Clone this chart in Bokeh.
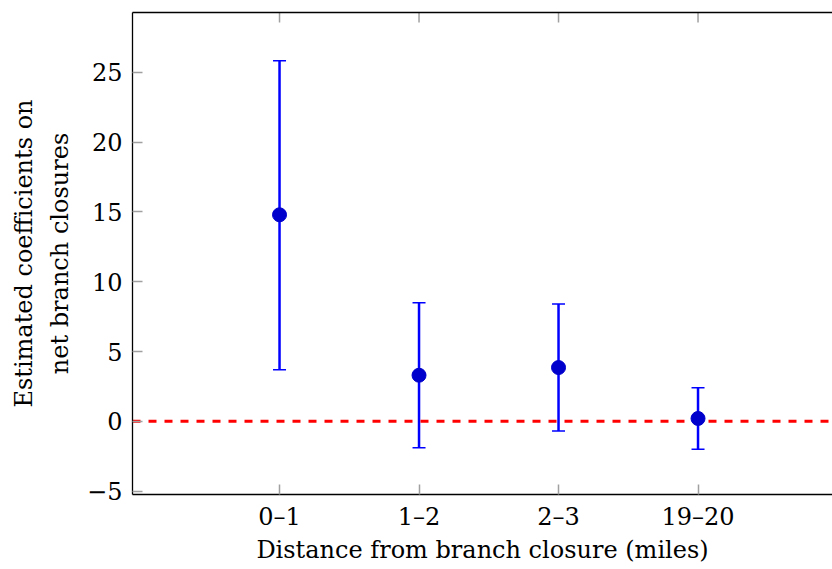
import math
from bokeh.plotting import figure
from bokeh.models import (Range1d, FixedTicker, Span, LinearAxis, Whisker,
                          TeeHead, ColumnDataSource, Title)
from bokeh.embed import file_html
from bokeh.resources import INLINE

# ---- data ----
categories = ["0–1", "1–2", "2–3", "19–20"]
estimates = [14.8, 3.3, 3.85, 0.2]
upper = [25.85, 8.5, 8.4, 2.4]
lower = [3.7, -1.9, -0.7, -2.0]
y_ticks = [-5, 0, 5, 10, 15, 20, 25]
x_label = "Distance from branch closure (miles)"
y_label_lines = ["Estimated coefficients on", "net branch closures"]

x_idx = list(range(len(categories)))
src = ColumnDataSource(dict(x=x_idx, est=estimates, upper=upper, lower=lower))

FONT = "DejaVu Serif"
FS = "24px"
TOP, BOTTOM, LEFT = 12, 494, 132
W, H = 832, 569
Y0, Y1 = -5.25, 29.3

p = figure(width=W, height=H, output_backend="svg", toolbar_location=None,
           x_range=Range1d(-1.054, 3.964), y_range=Range1d(Y0, Y1),
           min_border_left=LEFT, min_border_right=0, min_border_top=TOP,
           min_border_bottom=H - BOTTOM)
p.outline_line_color = None
p.grid.visible = False
p.background_fill_color = "white"
p.border_fill_color = "white"

tick_color = "#a0a0a0"

def style_axis(ax):
    ax.axis_line_color = "black"
    ax.axis_line_width = 1.3
    ax.major_tick_in = 10
    ax.major_tick_out = 0
    ax.minor_tick_line_color = None
    ax.major_tick_line_color = tick_color
    ax.major_tick_line_width = 1.5
    ax.major_label_text_font = FONT
    ax.major_label_text_font_size = FS
    ax.major_label_text_color = "black"
    ax.axis_label_text_font = FONT
    ax.axis_label_text_font_size = FS
    ax.axis_label_text_font_style = "normal"
    ax.axis_label_text_color = "black"

xa = p.xaxis[0]
style_axis(xa)
xa.ticker = FixedTicker(ticks=x_idx)
xa.major_label_overrides = {i: c for i, c in zip(x_idx, categories)}
xa.major_label_standoff = 8
xa.axis_label = x_label
xa.axis_label_standoff = 2

ya = p.yaxis[0]
style_axis(ya)
ya.ticker = FixedTicker(ticks=y_ticks)
ya.major_label_overrides = {t: (str(t).replace("-", "−")) for t in y_ticks}
ya.major_label_standoff = 10
ya.axis_label = y_label_lines[1]
ya.axis_label_standoff = 10

# top border (no ticks on the axis itself, ticks drawn as short rays)
top = LinearAxis(ticker=FixedTicker(ticks=[]))
style_axis(top)
top.major_label_standoff = 0
p.add_layout(top, "above")
p.ray(x=x_idx, y=Y1, length=10, length_units="screen", angle=-math.pi / 2,
      line_color=tick_color, line_width=1.5)

# outer line of the y label
t1 = Title(text=y_label_lines[0], align="center", text_font=FONT,
           text_font_size=FS, text_font_style="normal", text_color="black",
           standoff=12)
p.add_layout(t1, "left")

# error bars
wh = Whisker(source=src, base="x", upper="upper", lower="lower",
             line_color="blue", line_width=2.5,
             upper_head=TeeHead(size=13, line_color="blue", line_width=1.5),
             lower_head=TeeHead(size=13, line_color="blue", line_width=1.5),
             level="underlay")
p.add_layout(wh)

zero = Span(location=0, dimension="width", line_color="red", line_width=3,
            line_dash="8 8", level="underlay")
p.add_layout(zero)

p.scatter("x", "est", source=src, size=14, fill_color="#0000cc",
          line_color="#0000cc")

open("out.html", "w").write(file_html(p, INLINE))
